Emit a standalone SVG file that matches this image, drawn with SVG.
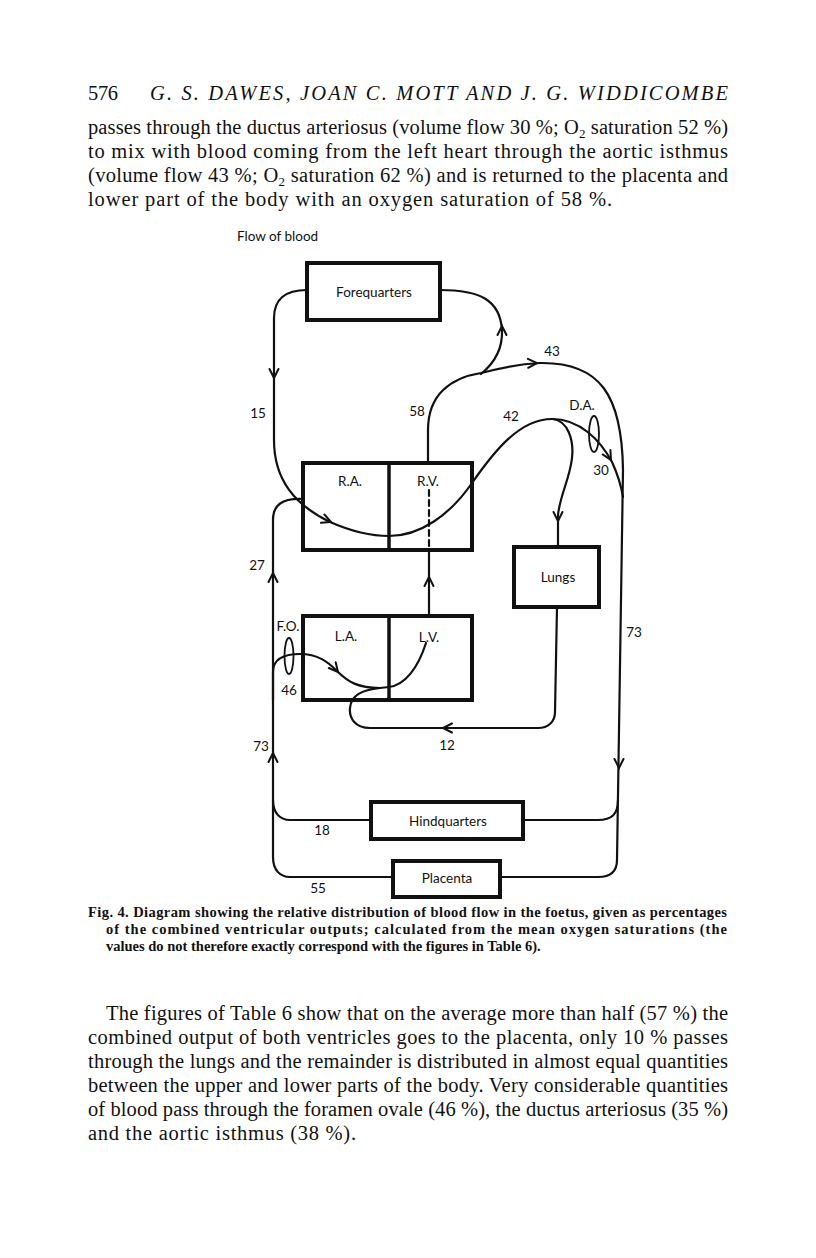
<svg xmlns="http://www.w3.org/2000/svg" xmlns:xlink="http://www.w3.org/1999/xlink" width="816" height="1258" viewBox="0 0 816 1258">
<style>
.serif{font-family:"Liberation Serif","DejaVu Serif",serif;fill:#111;}
.body{font-size:20.5px;}
.hdi{font-size:20.5px;font-style:italic;}
.cap{font-size:14.5px;font-weight:bold;}
.sub{font-size:13px;}
.lbl{font-family:Lato,"Liberation Sans",sans-serif;font-size:13.5px;fill:#111;text-anchor:middle;}
.box{fill:#fff;stroke:#111;stroke-width:4;}
.div{stroke:#111;stroke-width:3.5;fill:none;}
.ln{fill:none;stroke:#111;stroke-width:2.2;stroke-linecap:round;stroke-linejoin:round;}
.ah{fill:none;stroke:#111;stroke-width:2;stroke-linecap:round;stroke-linejoin:miter;}
</style>
<defs>
<path id="ah" class="ah" d="M-4.5,-9 L0,0 L4.5,-9"/>
</defs>
<rect width="816" height="1258" fill="#fff"/>

<g id="header-text">
<text class="serif body" x="88" y="100" textLength="30">576</text>
<text class="serif hdi" x="150" y="100" textLength="578">G. S. DAWES, JOAN C. MOTT AND J. G. WIDDICOMBE</text>
<text class="serif body" x="88" y="134" textLength="640">passes through the ductus arteriosus (volume flow 30 %; O<tspan class="sub" dy="4">2</tspan><tspan dy="-4"> saturation 52 %)</tspan></text>
<text class="serif body" x="88" y="158" textLength="640">to mix with blood coming from the left heart through the aortic isthmus</text>
<text class="serif body" x="88" y="182" textLength="640">(volume flow 43 %; O<tspan class="sub" dy="4">2</tspan><tspan dy="-4"> saturation 62 %) and is returned to the placenta and</tspan></text>
<text class="serif body" x="88" y="206" textLength="524">lower part of the body with an oxygen saturation of 58 %.</text>
</g>

<text class="lbl" x="237" y="241" style="text-anchor:start">Flow of blood</text>

<g id="connectors">
<path class="ln" d="M307,290 C287,290 274,298 274,318 L274,440 C274,480 295,505 330,522 C355,533 372,536 389,536 C420,536 450,515 472,483 C495,450 520,419 552,419 C580,419 600,440 612,462 C618,475 621,485 623,497"/>
<path class="ln" d="M440,290 C480,290 500,300 502,330 C503,352 492,365 481,374"/>
<path class="ln" d="M428,463 L428,430 C428,395 450,378 481,373 C500,368 520,364 540,363 C600,362 622,395 623,470 L617,860 C617,872 610,877 598,877 L500,877"/>
<path class="ln" d="M618,800 C618,814 612,820 598,820 L523,820"/>
<path class="ln" d="M393,877 L290,877 C280,877 273,870 273,857 L273,520 C273,505 282,498 303,499"/>
<path class="ln" d="M371,820 L290,820 C280,820 273,813 273,800"/>
<path class="ln" d="M273,700 L273,672 C273,660 282,654 300,654 C318,654 328,662 337,671 C348,682 358,688 380,688 L389,687 C405,685 418,668 426,643"/>
<path class="ln" d="M557,607 L555,712 C555,722 548,728 538,728 L370,728 C355,728 349,718 350,708 C351,695 362,690 380,688"/>
<path class="ln" d="M429,616 L429,550"/>
<path class="ln" d="M429,490 L429,548" stroke-dasharray="6,4"/>
<path class="ln" d="M553,419 C568,421 574,440 572,458 C570,478 560,495 558,515 L558,547"/>
<use xlink:href="#ah" transform="translate(274,378)"/>
<use xlink:href="#ah" transform="translate(331,522) rotate(-68)"/>
<use xlink:href="#ah" transform="translate(502,326) rotate(180)"/>
<use xlink:href="#ah" transform="translate(537,363) rotate(-92)"/>
<use xlink:href="#ah" transform="translate(611,460) rotate(-30)"/>
<use xlink:href="#ah" transform="translate(558,521)"/>
<use xlink:href="#ah" transform="translate(429,577) rotate(180)"/>
<use xlink:href="#ah" transform="translate(273,573) rotate(180)"/>
<use xlink:href="#ah" transform="translate(273,753) rotate(180)"/>
<use xlink:href="#ah" transform="translate(338,672) rotate(-40)"/>
<use xlink:href="#ah" transform="translate(443,728) rotate(90)"/>
<use xlink:href="#ah" transform="translate(619,768)"/>
<ellipse cx="594" cy="434" rx="5" ry="18" fill="none" stroke="#111" stroke-width="1.8"/>
<ellipse cx="289" cy="656" rx="4.5" ry="18" fill="none" stroke="#111" stroke-width="1.8"/>
</g>

<g id="forequarters">
<rect class="box" x="307" y="263" width="133" height="57"/>
<text class="lbl" x="374" y="297">Forequarters</text>
</g>
<g id="heart-right">
<rect class="box" x="303" y="463" width="169" height="87" style="fill:none"/>
<path class="div" d="M389,463 L389,550"/>
<text class="lbl" x="350" y="486">R.A.</text>
<text class="lbl" x="428" y="486">R.V.</text>
</g>
<g id="heart-left">
<rect class="box" x="303" y="616" width="169" height="84" style="fill:none"/>
<path class="div" d="M389,616 L389,700"/>
<text class="lbl" x="346" y="641">L.A.</text>
<text class="lbl" x="429" y="642">L.V.</text>
</g>
<g id="lungs">
<rect class="box" x="514" y="547" width="85" height="60"/>
<text class="lbl" x="558" y="582">Lungs</text>
</g>
<g id="hindquarters">
<rect class="box" x="371" y="802" width="152" height="37"/>
<text class="lbl" x="448" y="826">Hindquarters</text>
</g>
<g id="placenta">
<rect class="box" x="393" y="861" width="107" height="36"/>
<text class="lbl" x="447" y="883">Placenta</text>
</g>

<g id="labels">
<text class="lbl" x="258" y="418">15</text>
<text class="lbl" x="417" y="416">58</text>
<text class="lbl" x="511" y="421">42</text>
<text class="lbl" x="552" y="356">43</text>
<text class="lbl" x="582" y="410">D.A.</text>
<text class="lbl" x="601" y="475">30</text>
<text class="lbl" x="257" y="570">27</text>
<text class="lbl" x="288" y="631">F.O.</text>
<text class="lbl" x="289" y="695">46</text>
<text class="lbl" x="261" y="751">73</text>
<text class="lbl" x="447" y="750">12</text>
<text class="lbl" x="634" y="637">73</text>
<text class="lbl" x="322" y="835">18</text>
<text class="lbl" x="318" y="893">55</text>
</g>

<g id="caption">
<text class="serif cap" x="88" y="917" textLength="639">Fig. 4. Diagram showing the relative distribution of blood flow in the foetus, given as percentages</text>
<text class="serif cap" x="106" y="934" textLength="621">of the combined ventricular outputs; calculated from the mean oxygen saturations (the</text>
<text class="serif cap" x="106" y="951">values do not therefore exactly correspond with the figures in Table 6).</text>
</g>

<g id="paragraph">
<text class="serif body" x="106" y="1020" textLength="622">The figures of Table 6 show that on the average more than half (57 %) the</text>
<text class="serif body" x="88" y="1044" textLength="640">combined output of both ventricles goes to the placenta, only 10 % passes</text>
<text class="serif body" x="88" y="1068" textLength="640">through the lungs and the remainder is distributed in almost equal quantities</text>
<text class="serif body" x="88" y="1092" textLength="640">between the upper and lower parts of the body. Very considerable quantities</text>
<text class="serif body" x="88" y="1116" textLength="640">of blood pass through the foramen ovale (46 %), the ductus arteriosus (35 %)</text>
<text class="serif body" x="88" y="1140" textLength="268">and the aortic isthmus (38 %).</text>
</g>
</svg>
